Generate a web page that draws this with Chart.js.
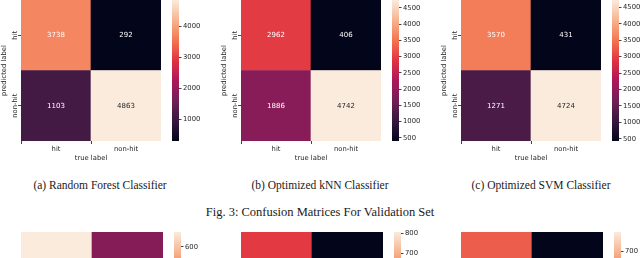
<!DOCTYPE html>
<html>
<head>
<meta charset="utf-8">
<script src="https://cdn.jsdelivr.net/npm/chart.js@4"></script>
<style>
  body { margin: 0; width: 640px; height: 258px; overflow: hidden; background: #fff; position: relative; }
  canvas { position: absolute; }
  .cap { position: absolute; font-family: "Liberation Serif", "Times New Roman", serif; color: #1a1a1a; white-space: nowrap; transform: translateX(-50%); }
</style>
</head>
<body>
<script>
/* ---- data ---- */
const classes = ['hit', 'non-hit'];

// validation set (rows = predicted label, columns = true label)
const rfPredHit = [3738, 292];
const rfPredNonHit = [1103, 4863];
const knnPredHit = [2962, 406];
const knnPredNonHit = [1886, 4742];
const svmPredHit = [3570, 431];
const svmPredNonHit = [1271, 4724];

// next figure, only its top edge is visible (values estimated from colours / colorbars)
const rfTestPredHit = [662, 268];
const rfTestPredNonHit = [121, 70];
const knnTestPredHit = [512, 101];
const knnTestPredNonHit = [386, 805];
const svmTestPredHit = [564, 115];
const svmTestPredNonHit = [344, 795];

// colorbar tick labels
const rfTicks = [1000, 2000, 3000, 4000];
const knnTicks = [500, 1000, 1500, 2000, 2500, 3000, 3500, 4000, 4500];
const svmTicks = [500, 1000, 1500, 2000, 2500, 3000, 3500, 4000, 4500];
const rfTestTicks = [100, 200, 300, 400, 500, 600];
const knnTestTicks = [200, 300, 400, 500, 600, 700, 800];
const svmTestTicks = [200, 300, 400, 500, 600, 700];

const subCaptions = ['(a) Random Forest Classifier', '(b) Optimized kNN Classifier', '(c) Optimized SVM Classifier'];
const figCaption = 'Fig. 3: Confusion Matrices For Validation Set';

/* ---- style ---- */
const rocketStops = ['#03051a', '#35193e', '#701f57', '#ad1759', '#e13342', '#f37651', '#f6b48f', '#faebdd'];
const tickFont = { family: 'DejaVu Sans', size: 6.8 };
const tickColor = '#262626';

function hexRgb(h) {
  return [1, 3, 5].map(i => parseInt(h.substr(i, 2), 16));
}

function rocket(t) {
  t = Math.max(0, Math.min(1, t));
  const n = rocketStops.length - 1;
  const i = Math.min(n - 1, Math.floor(t * n));
  const f = t * n - i;
  const a = hexRgb(rocketStops[i]), b = hexRgb(rocketStops[i + 1]);
  return a.map((v, k) => Math.round(v + (b[k] - v) * f));
}

function rgbStr(c) { return `rgb(${c[0]},${c[1]},${c[2]})`; }

// seaborn picks dark annotation text on light cells
function textColorFor(c) {
  const lin = c.map(v => { v /= 255; return v <= 0.03928 ? v / 12.92 : Math.pow((v + 0.055) / 1.055, 2.4); });
  const lum = 0.2126 * lin[0] + 0.7152 * lin[1] + 0.0722 * lin[2];
  return lum > 0.408 ? '#262626' : '#ffffff';
}

const annotate = {
  id: 'annotate',
  afterDatasetsDraw(chart) {
    const ctx = chart.ctx;
    ctx.save();
    ctx.font = '7px "DejaVu Sans"';
    ctx.textAlign = 'center';
    ctx.textBaseline = 'middle';
    chart.data.datasets.forEach((ds, di) => {
      chart.getDatasetMeta(di).data.forEach((bar, j) => {
        const p = bar.getCenterPoint();
        ctx.fillStyle = ds.textColors[j];
        ctx.fillText(String(ds.values[j]), p.x, p.y);
      });
    });
    ctx.restore();
  }
};

function addCanvas(left, top, w, h) {
  const c = document.createElement('canvas');
  c.width = w; c.height = h;
  c.style.left = left + 'px';
  c.style.top = top + 'px';
  document.body.appendChild(c);
  return c;
}

// one confusion matrix + its colorbar
function drawMatrix(x0, y0, predHit, predNonHit, cbTicks, L) {
  const all = predHit.concat(predNonHit);
  const vmin = Math.min(...all), vmax = Math.max(...all);
  const colOf = v => rocket((v - vmin) / (vmax - vmin));

  const rowSet = (vals) => {
    const cols = vals.map(colOf);
    return {
      data: vals.map(() => 1),
      values: vals,
      backgroundColor: cols.map(rgbStr),
      textColors: cols.map(textColorFor),
      borderWidth: 0,
      barPercentage: 1,
      categoryPercentage: 1
    };
  };

  const hm = addCanvas(x0, y0, L.yAxisW + L.hmW, L.hmH + L.xAxisH);
  new Chart(hm, {
    type: 'bar',
    data: {
      labels: classes,
      // bottom row first: stacked bars grow upward
      datasets: [rowSet(predNonHit), rowSet(predHit)]
    },
    options: {
      responsive: false,
      animation: false,
      events: [],
      layout: { padding: 0 },
      plugins: { legend: { display: false }, tooltip: { enabled: false } },
      scales: {
        x: {
          stacked: true,
          grid: { drawOnChartArea: false, tickLength: 3, color: '#444' },
          border: { display: false },
          ticks: { font: tickFont, color: tickColor, padding: 1, maxRotation: 0 },
          title: { display: true, text: 'true label', font: tickFont, color: tickColor, padding: { top: 0, bottom: 3 } },
          afterFit: s => { s.height = L.xAxisH; s.paddingLeft = 0; s.paddingRight = 0; }
        },
        y: {
          stacked: true,
          min: 0, max: 2,
          grid: { drawOnChartArea: false, tickLength: 3, color: '#444' },
          border: { display: false },
          afterBuildTicks: s => { s.ticks = [{ value: 0.5 }, { value: 1.5 }]; },
          ticks: {
            font: tickFont, color: tickColor,
            minRotation: 90, maxRotation: 90,
            crossAlign: 'center',
            padding: L.yTickPad,
            callback: v => classes[Math.round(1.5 - v)]
          },
          title: { display: true, text: 'predicted label', font: tickFont, color: tickColor, padding: { top: 0.5, bottom: 0 } },
          afterFit: s => { s.width = L.yAxisW; s.paddingTop = 0; s.paddingBottom = 0; }
        }
      }
    },
    plugins: [annotate]
  });

  const cb = addCanvas(x0 + L.cbLeft, y0 - 6, L.cbW + 30, L.hmH + 12);
  new Chart(cb, {
    type: 'bar',
    data: {
      labels: [''],
      datasets: [{
        data: [[vmin, vmax]],
        borderWidth: 0,
        barPercentage: 1,
        categoryPercentage: 1,
        backgroundColor: ctx => {
          const chart = ctx.chart;
          if (!chart.chartArea) return 'transparent';
          const y = chart.scales.y;
          const g = chart.ctx.createLinearGradient(0, y.getPixelForValue(vmin), 0, y.getPixelForValue(vmax));
          for (let k = 0; k <= 40; k++) g.addColorStop(k / 40, rgbStr(rocket(k / 40)));
          return g;
        }
      }]
    },
    options: {
      responsive: false,
      animation: false,
      events: [],
      layout: { padding: { top: 6, bottom: 6, left: 0, right: 0 } },
      plugins: { legend: { display: false }, tooltip: { enabled: false } },
      scales: {
        x: { display: false },
        y: {
          position: 'right',
          min: vmin, max: vmax,
          grid: { drawOnChartArea: false, tickLength: 2.5, color: '#444' },
          border: { display: false },
          afterBuildTicks: s => { s.ticks = cbTicks.filter(t => t >= vmin && t <= vmax).map(t => ({ value: t })); },
          ticks: { font: tickFont, color: tickColor, padding: 1.5, callback: v => String(v) },
          afterFit: s => { s.width = 30; s.paddingTop = 0; s.paddingBottom = 0; }
        }
      }
    }
  });
}

const topLayout = { yAxisW: 21, hmW: 140, hmH: 141, xAxisH: 24, cbLeft: 172, cbW: 7, yTickPad: -9 };
const botLayout = { yAxisW: 21, hmW: 142, hmH: 141, xAxisH: 24, cbLeft: 174, cbW: 7, yTickPad: -9 };

drawMatrix(0, 0, rfPredHit, rfPredNonHit, rfTicks, topLayout);
drawMatrix(220, 0, knnPredHit, knnPredNonHit, knnTicks, topLayout);
drawMatrix(440, 0, svmPredHit, svmPredNonHit, svmTicks, topLayout);

drawMatrix(0, 232, rfTestPredHit, rfTestPredNonHit, rfTestTicks, botLayout);
drawMatrix(220, 232, knnTestPredHit, knnTestPredNonHit, knnTestTicks, botLayout);
drawMatrix(440, 232, svmTestPredHit, svmTestPredNonHit, svmTestTicks, botLayout);

// captions
[100, 320, 541].forEach((cx, i) => {
  const d = document.createElement('div');
  d.className = 'cap';
  d.style.left = cx + 'px';
  d.style.top = '179px';
  d.style.fontSize = '11.5px';
  d.textContent = subCaptions[i];
  document.body.appendChild(d);
});
const fc = document.createElement('div');
fc.className = 'cap';
fc.style.left = '320px';
fc.style.top = '205px';
fc.style.fontSize = '12.5px';
fc.textContent = figCaption;
document.body.appendChild(fc);
</script>
</body>
</html>
